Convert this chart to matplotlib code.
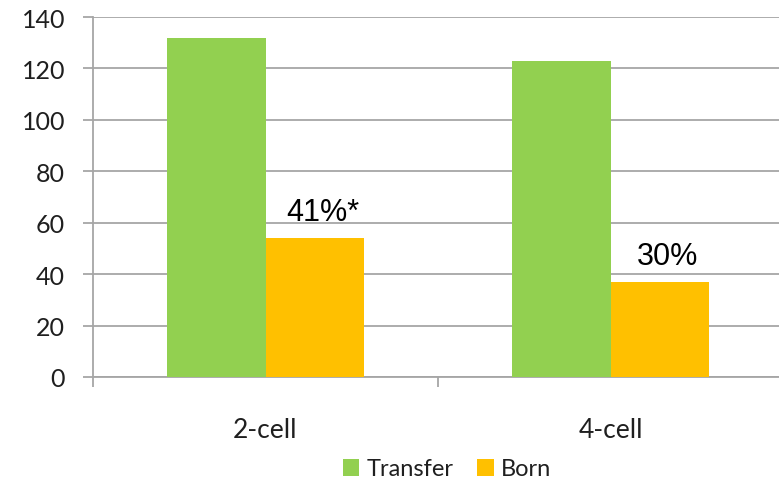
import matplotlib
matplotlib.use("Agg")
import matplotlib.pyplot as plt
import numpy as np

# embryo stage groups and counts
stages = ["2-cell", "4-cell"]
transfer = [132, 123]
born = [54, 37]
born_pct = ["41%*", "30%"]

GREEN = "#92D050"
ORANGE = "#FFC000"
GRID = "#A6A6A6"

fig = plt.figure(figsize=(7.79, 4.81), dpi=100, facecolor="white")
# axes runs a little past the right edge of the figure
ax = fig.add_axes([93 / 779, 103 / 481, 690 / 779, 360 / 481])

x = np.arange(len(stages))
w = 0.285
ax.bar(x - w / 2, transfer, width=w, color=GREEN, label="Transfer", zorder=3)
ax.bar(x + w / 2, born, width=w, color=ORANGE, label="Born", zorder=3)

for xi, val, txt in zip(x, born, born_pct):
    ax.annotate(txt, (xi + w / 2, val), xytext=(6, 13), textcoords="offset points",
                ha="center", va="baseline", fontsize=22,
                family="Liberation Sans", color="black")

ax.set_xlim(-0.5, 1.5)
ax.set_ylim(0, 140)
ax.set_yticks(range(0, 141, 20))
ax.yaxis.grid(True, color=GRID, linewidth=1.3, zorder=0)

ax.set_xticks([-0.5, 0.5, 1.5])
ax.set_xticklabels([])
ax.set_xticks(x, minor=True)
ax.set_xticklabels(stages, minor=True, fontsize=19, family="Lato", color="#1f1f1f")
ax.tick_params(axis="x", which="major", length=7, color=GRID, width=1.3)
ax.tick_params(axis="x", which="minor", length=0, pad=29)
ax.tick_params(axis="y", length=7, color=GRID, width=1.3, pad=13)
for lbl in ax.get_yticklabels():
    lbl.set_fontsize(18)
    lbl.set_family("Lato")
    lbl.set_color("#1f1f1f")

for s in ["top", "right"]:
    ax.spines[s].set_visible(False)
for s in ["left", "bottom"]:
    ax.spines[s].set_color(GRID)
    ax.spines[s].set_linewidth(1.3)

fig.legend(loc="center", bbox_to_anchor=(447 / 779, 1 - 470 / 481), ncol=2,
           frameon=False, prop={"family": "Lato", "size": 17},
           handlelength=0.7, handleheight=0.7, handletextpad=0.3,
           columnspacing=1.0, labelcolor="#1f1f1f")

fig.savefig("out.png", dpi=100, facecolor="white")
